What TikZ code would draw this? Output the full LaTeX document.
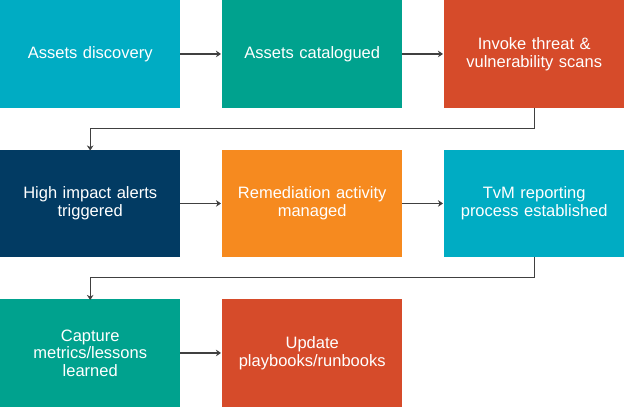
\documentclass[tikz,border=0pt]{standalone}
\usepackage{fontspec}
\setmainfont{Liberation Sans}
\usetikzlibrary{arrows.meta}
\definecolor{ccyan}{HTML}{00ACC3}
\definecolor{cteal}{HTML}{00A28E}
\definecolor{cred}{HTML}{D64B2A}
\definecolor{cnavy}{HTML}{023B63}
\definecolor{corange}{HTML}{F68A1F}
\definecolor{cline}{HTML}{404040}
\tikzset{
  stepbox/.style={draw=none, fill=#1, text=white, minimum width=180pt, minimum height=107.5pt,
    inner sep=0pt, anchor=north west, align=center, text width=170pt,
    font=\fontsize{16.5}{17.6}\selectfont},
  arr/.style={draw=cline, line width=1.1pt, -{Stealth[length=5pt,width=6.5pt,inset=1.5pt]}},
}
\begin{document}
\begin{tikzpicture}[x=1pt,y=-1pt]
\useasboundingbox (0,0) rectangle (624,407);
\node[stepbox=ccyan] (b1) at (0,0) {Assets discovery};
\node[stepbox=cteal] (b2) at (222,0) {Assets catalogued};
\node[stepbox=cred] (b3) at (444,0) {Invoke threat \&\\vulnerability scans};
\node[stepbox=cnavy] (b4) at (0,149.5) {High impact alerts\\triggered};
\node[stepbox=corange] (b5) at (222,149.5) {Remediation activity\\managed};
\node[stepbox=ccyan] (b6) at (444,149.5) {TvM reporting\\process established};
\node[stepbox=cteal] (b7) at (0,299) {Capture\\metrics/lessons\\learned};
\node[stepbox=cred] (b8) at (222,299) {Update\\playbooks/runbooks};
\draw[arr] (b1.east) -- ([xshift=-1pt]b2.west);
\draw[arr] (b2.east) -- ([xshift=-1pt]b3.west);
\draw[arr] (b4.east) -- ([xshift=-1pt]b5.west);
\draw[arr] (b5.east) -- ([xshift=-1pt]b6.west);
\draw[arr] (b7.east) -- ([xshift=-1pt]b8.west);
\draw[arr] (b3.south) -- ++(0,20.5) -| ([yshift=-1pt]b4.north);
\draw[arr] (b6.south) -- ++(0,20.5) -| ([yshift=-1pt]b7.north);
\end{tikzpicture}
\end{document}
